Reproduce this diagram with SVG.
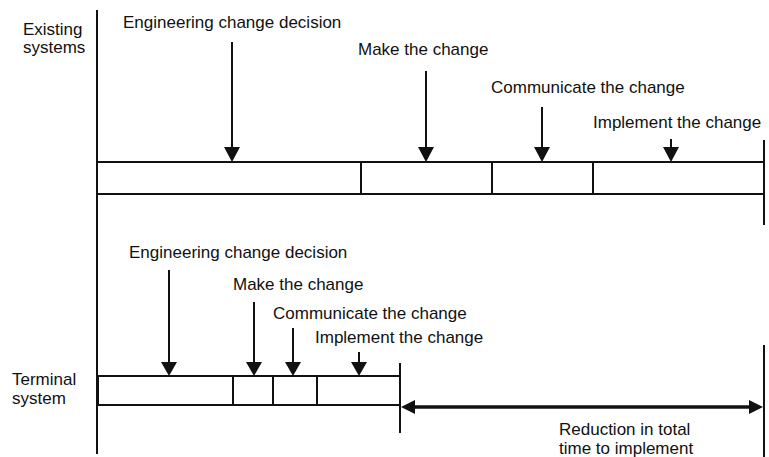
<svg xmlns="http://www.w3.org/2000/svg" width="769" height="457" viewBox="0 0 769 457">
  <style>
    .t { font-family: "Liberation Sans", Arial, sans-serif; font-size: 17px; fill: #111; }
    .ln { stroke: #111; stroke-width: 2; fill: none; }
    .bar { stroke: #111; stroke-width: 2; fill: #fff; }
    .shaft { stroke: #111; stroke-width: 2; }
    .thick { stroke: #111; stroke-width: 3.5; }
    .head { fill: #111; }
  </style>
  <rect width="769" height="457" fill="#fff"/>

  <!-- axis and frame lines -->
  <g id="frame">
    <line class="ln" x1="97" y1="10" x2="97" y2="454"/>
    <line class="ln" x1="764" y1="140" x2="764" y2="225"/>
    <line class="ln" x1="764" y1="345" x2="764" y2="457"/>
    <line class="ln" x1="400" y1="363" x2="400" y2="433"/>
  </g>

  <!-- existing systems timeline -->
  <g id="existing-label">
    <text class="t" x="23" y="35">Existing</text>
    <text class="t" x="23" y="53">systems</text>
  </g>
  <g id="existing-bar">
    <rect class="bar" x="97" y="162" width="667" height="32"/>
    <line class="ln" x1="361" y1="162" x2="361" y2="194"/>
    <line class="ln" x1="492" y1="162" x2="492" y2="194"/>
    <line class="ln" x1="593" y1="162" x2="593" y2="194"/>
  </g>
  <g id="ex-decision"><text class="t" x="123" y="28">Engineering change decision</text></g>
  <g id="ex-make"><text class="t" x="358" y="55">Make the change</text></g>
  <g id="ex-communicate"><text class="t" x="491" y="93">Communicate the change</text></g>
  <g id="ex-implement"><text class="t" x="593" y="128">Implement the change</text></g>

  <!-- terminal system timeline -->
  <g id="terminal-label">
    <text class="t" x="12" y="385">Terminal</text>
    <text class="t" x="12" y="404">system</text>
  </g>
  <g id="terminal-bar">
    <rect class="bar" x="98" y="376" width="302" height="29"/>
    <line class="ln" x1="233" y1="376" x2="233" y2="405"/>
    <line class="ln" x1="273" y1="376" x2="273" y2="405"/>
    <line class="ln" x1="317" y1="376" x2="317" y2="405"/>
  </g>
  <g id="tm-decision"><text class="t" x="129" y="258">Engineering change decision</text></g>
  <g id="tm-make"><text class="t" x="233" y="290">Make the change</text></g>
  <g id="tm-communicate"><text class="t" x="273" y="319">Communicate the change</text></g>
  <g id="tm-implement"><text class="t" x="315" y="343">Implement the change</text></g>

  <g id="reduction-label">
    <text class="t" x="559" y="435">Reduction in total</text>
    <text class="t" x="559" y="454">time to implement</text>
  </g>

  <!-- connectors -->
  <g id="connectors">
    <line class="shaft" x1="232" y1="42" x2="232" y2="150" />
    <path class="head" d="M224,147 L240,147 L232,162 Z"/>
    <line class="shaft" x1="426" y1="71" x2="426" y2="150" />
    <path class="head" d="M418,147 L434,147 L426,162 Z"/>
    <line class="shaft" x1="542" y1="107" x2="542" y2="150" />
    <path class="head" d="M534,147 L550,147 L542,162 Z"/>
    <line class="shaft" x1="671" y1="139" x2="671" y2="150" />
    <path class="head" d="M663,147 L679,147 L671,162 Z"/>

    <line class="shaft" x1="169" y1="270" x2="169" y2="364" />
    <path class="head" d="M161,362 L177,362 L169,376 Z"/>
    <line class="shaft" x1="254" y1="302" x2="254" y2="364" />
    <path class="head" d="M246,362 L262,362 L254,376 Z"/>
    <line class="shaft" x1="293" y1="328" x2="293" y2="364" />
    <path class="head" d="M285,362 L301,362 L293,376 Z"/>
    <line class="shaft" x1="359" y1="352" x2="359" y2="364" />
    <path class="head" d="M351,362 L367,362 L359,376 Z"/>

    <line class="thick" x1="412" y1="407" x2="752" y2="407"/>
    <path class="head" d="M401,407 L415,400 L415,414 Z"/>
    <path class="head" d="M763,407 L749,400 L749,414 Z"/>
  </g>
</svg>
